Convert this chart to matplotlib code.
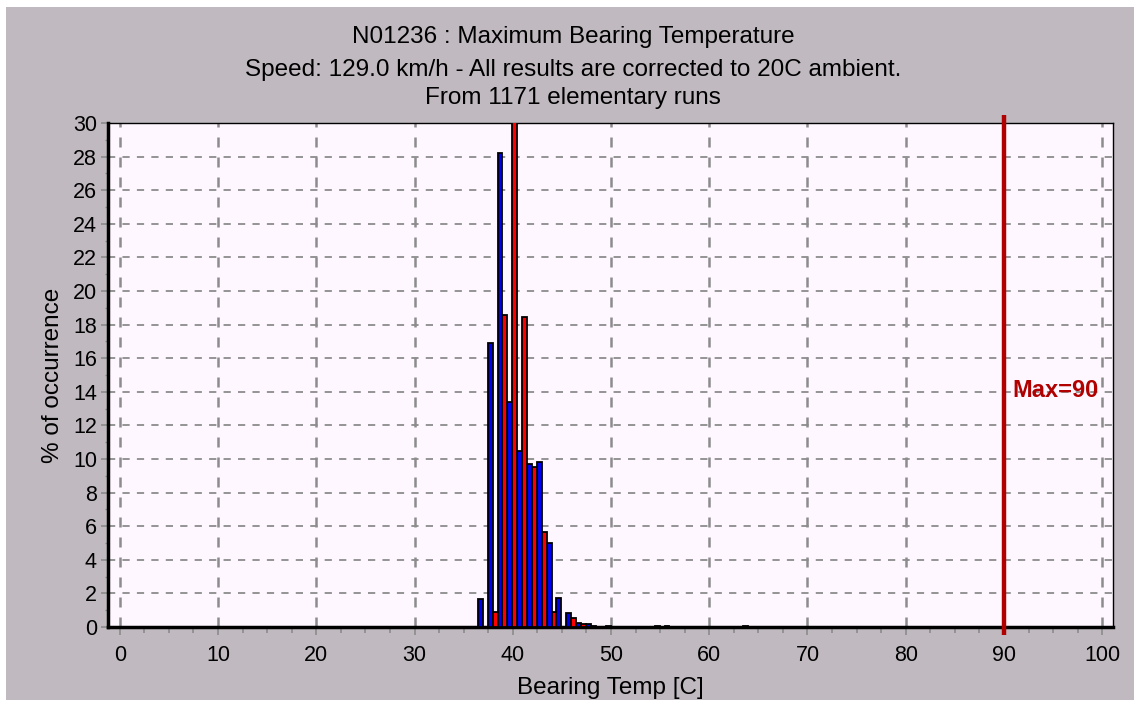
import matplotlib
matplotlib.use("Agg")
import matplotlib.pyplot as plt
from matplotlib.patches import Rectangle

# histogram of max bearing temperature, 1 degC bins, two interleaved series
blue_x = [36.7, 37.7, 38.7, 39.7, 40.7, 41.7, 42.7, 43.7, 44.7, 45.7, 46.7, 47.7, 49.7, 54.7, 55.7, 63.7]
blue_pct = [1.65, 16.9, 28.2, 13.4, 10.45, 9.7, 9.8, 5.0, 1.75, 0.82, 0.24, 0.17, 0.085, 0.085, 0.085, 0.085]
red_x = [38.2, 39.2, 40.2, 41.2, 42.2, 43.2, 44.2, 46.2, 47.2, 48.2]
red_pct = [0.87, 18.6, 44.0, 18.45, 9.5, 5.65, 0.87, 0.52, 0.17, 0.085]

max_temp = 90
x_ticks = list(range(0, 101, 10))
y_ticks = list(range(0, 31, 2))

title_lines = ["N01236 : Maximum Bearing Temperature",
               "Speed: 129.0 km/h - All results are corrected to 20C ambient.",
               "From 1171 elementary runs"]

plt.rcParams['font.family'] = ['Liberation Sans', 'DejaVu Sans']

W, H = 1134, 701
fig = plt.figure(figsize=(W / 100, H / 100), dpi=100)
fig.patch.set_facecolor("white")
fig.patches.append(Rectangle((6 / W, 1 / H), 1, (H - 8) / H, transform=fig.transFigure,
                             facecolor="#c0bac0", edgecolor="none", zorder=-10))

ax = fig.add_axes([108 / W, (H - 627) / H, (1113 - 108) / W, (627 - 123) / H])
ax.set_facecolor("#fff7ff")

ax.bar(blue_x, blue_pct, width=0.5, color="#0000f0", edgecolor="black", linewidth=1.3, zorder=3)
ax.bar(red_x, red_pct, width=0.5, color="#ff0000", edgecolor="black", linewidth=1.3, zorder=3)

ax.set_xlim(-1.2, 101.1)
ax.set_ylim(0, 30)
ax.set_xticks(x_ticks)
ax.set_yticks(y_ticks)
ax.set_xticks([x + 2.5 * i for x in x_ticks[:-1] for i in (1, 2, 3)], minor=True)
ax.set_yticks([y + 1 for y in y_ticks[:-1]], minor=True)

for y in y_ticks[1:]:
    ax.axhline(y, color="#8c8c8c", linestyle=(0, (4, 4)), linewidth=1.3, zorder=1)
for x in x_ticks:
    ax.axvline(x, color="#8c8c8c", linestyle=(0, (4, 4)), linewidth=1.8, zorder=1)

ax.tick_params(axis="x", which="major", length=6, width=1.2, color="#8c8c8c",
               labelsize=15.5, pad=7)
ax.tick_params(axis="x", which="minor", length=4, width=1.2, color="#8c8c8c")
ax.tick_params(axis="y", which="major", length=5, width=1.2, color="#8c8c8c",
               labelsize=15.5, pad=3)
ax.tick_params(axis="y", which="minor", length=2, width=1, color="#8c8c8c")

ax.spines["left"].set_linewidth(2.5)
ax.spines["bottom"].set_linewidth(2.5)
ax.spines["top"].set_linewidth(1)
ax.spines["right"].set_linewidth(1)

# max allowed temperature line
ax.plot([max_temp, max_temp], [-0.45, 30.45], color="#b00000", linewidth=3.2,
        clip_on=False, zorder=5, solid_capstyle="butt")
ax.text(max_temp + 0.9, 14.1, "Max=" + str(max_temp), color="#b00000", fontsize=17,
        fontweight="bold", va="center", ha="left", zorder=6)

ax.set_xlabel("Bearing Temp [C]", fontsize=17.5, labelpad=8)
ax.set_ylabel("% of occurrence", fontsize=17.5, labelpad=6)

for i, line in enumerate(title_lines):
    fig.text(573 / W, 1 - [37, 70, 98][i] / H, line, ha="center", va="center",
             fontsize=17.5)

fig.savefig("out.png", dpi=100)
